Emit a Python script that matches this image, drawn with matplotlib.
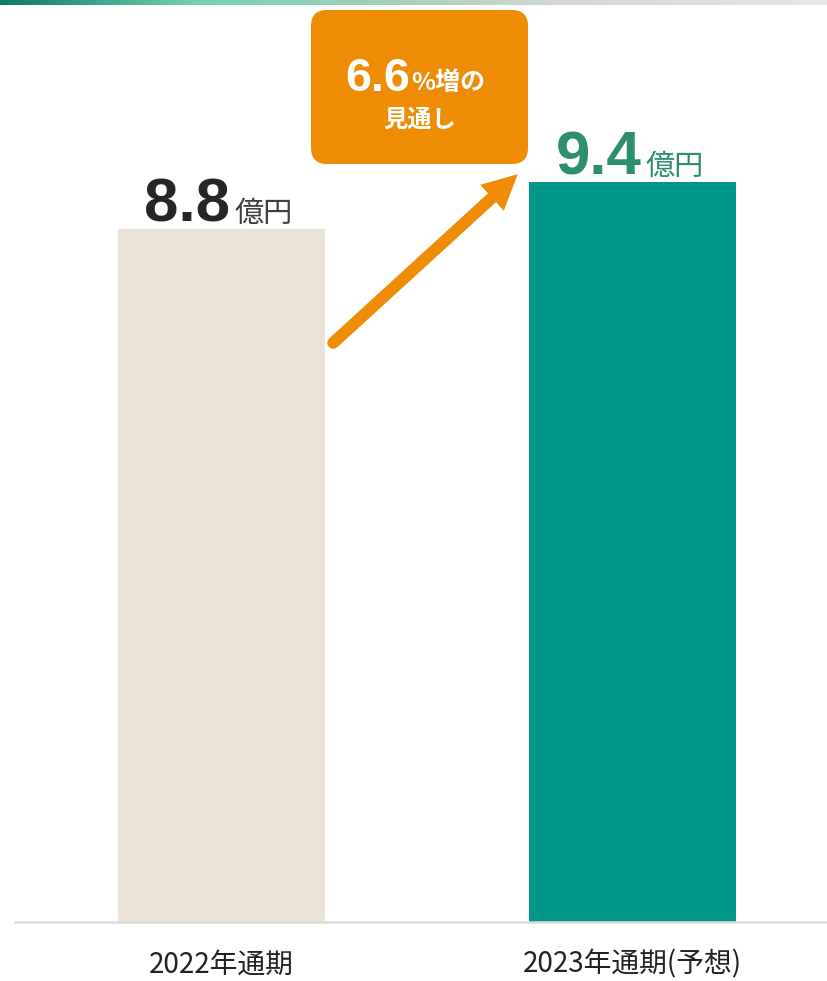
import numpy as np
import matplotlib
matplotlib.use("Agg")
import matplotlib.pyplot as plt
from matplotlib.colors import LinearSegmentedColormap
from matplotlib.patches import FancyBboxPatch, Polygon
from matplotlib.lines import Line2D

# ---- data ----
categories = ["2022年通期", "2023年通期(予想)"]
values = [8.8, 9.4]
value_labels = ["8.8", "9.4"]
unit_label = "億円"
callout_main = "6.6"
callout_suffix = "%増の"
callout_line2 = "見通し"

bar_colors = ["#EAE2D6", "#00978A"]
num_colors = ["#262626", "#2E8F6F"]
unit_colors = ["#404040", "#2E8F6F"]
orange = "#EE8C06"

CJK = ["Noto Sans CJK JP", "DejaVu Sans"]
NUM = ["Liberation Sans", "DejaVu Sans"]
plt.rcParams["font.family"] = CJK

W, H = 827, 981
fig = plt.figure(figsize=(W / 100, H / 100), dpi=100)

# main axes
base_px = 922
ax = fig.add_axes([15 / W, (H - base_px) / H, (W - 15) / W, base_px / H])
x = np.arange(len(categories))
bw = 0.504
ax.bar(x, values, width=bw, color=bar_colors, zorder=2)
ax.set_xlim(-0.502, 1.473)
ax.set_ylim(0, base_px / 78.72)
for s in ["left", "right", "top"]:
    ax.spines[s].set_visible(False)
ax.spines["bottom"].set_color("#DCDCDC")
ax.spines["bottom"].set_linewidth(1.8)
ax.spines["bottom"].set_zorder(3)
ax.set_yticks([])
ax.set_xticks(x)
ax.set_xticklabels(categories, fontsize=20, color="#222222", family=CJK)
ax.tick_params(axis="x", length=0, pad=20)
ax.set_facecolor("none")

# value labels
for xi, v, lab, nc, uc in zip(x, values, value_labels, num_colors, unit_colors):
    ax.annotate(lab, xy=(xi, v), xytext=(9, 8), textcoords="offset pixels",
                ha="right", va="baseline", fontsize=44.5, fontweight="bold",
                color=nc, family=NUM)
    ax.annotate(unit_label, xy=(xi, v), xytext=(13, 7), textcoords="offset pixels",
                ha="left", va="baseline", fontsize=21, color=uc, family=CJK)

# overlay in pixel coordinates for decorations
ov = fig.add_axes([0, 0, 1, 1], zorder=5)
ov.set_facecolor("none")
ov.axis("off")

grad_cmap = LinearSegmentedColormap.from_list(
    "g", [(0.0, "#0E7A6A"), (0.24, "#76D1B1"), (0.5, "#A9CFC2"),
          (0.68, "#D5D7D6"), (1.0, "#E6E6E6")])
ov.imshow(np.linspace(0, 1, 400)[None, :], cmap=grad_cmap, aspect="auto",
          extent=[0, W, 5, 0])
ov.set_xlim(0, W)
ov.set_ylim(H, 0)

# callout box
box = FancyBboxPatch((311 + 16, 10 + 16), 217 - 32, 154 - 32,
                     boxstyle="round,pad=16", facecolor=orange, edgecolor="none")
ov.add_patch(box)
ov.text(410, 91, callout_main, ha="right", va="baseline", fontsize=33.5,
        fontweight="bold", color="white", family=NUM)
ov.text(411, 90, callout_suffix, ha="left", va="baseline", fontsize=18,
        fontweight="bold", color="white", family=CJK)
ov.text(420, 127, callout_line2, ha="center", va="baseline", fontsize=17.5,
        fontweight="bold", color="white", family=CJK)

# arrow from bar 1 to bar 2 (computed from bar geometry)
fig.canvas.draw()
tail_d = ax.transData.transform((x[0] + bw / 2 + 0.02, values[0] * 0.836))
tip_d = ax.transData.transform((x[1] - bw / 2 - 0.027, values[1] + 0.1))
tail = np.array([tail_d[0], H - tail_d[1]])
tip = np.array([tip_d[0], H - tip_d[1]])
d = tip - tail
u = d / np.linalg.norm(d)
n = np.array([-u[1], u[0]])
head_len, head_half = 35, 17.5
base = tip - u * head_len
ov.add_line(Line2D([tail[0], base[0] + u[0] * 2], [tail[1], base[1] + u[1] * 2],
                   color=orange, lw=8.6, solid_capstyle="round"))
ov.add_patch(Polygon([tip, base + n * head_half, base - n * head_half],
                     closed=True, facecolor=orange, edgecolor="none"))

fig.savefig("out.png", dpi=100)
